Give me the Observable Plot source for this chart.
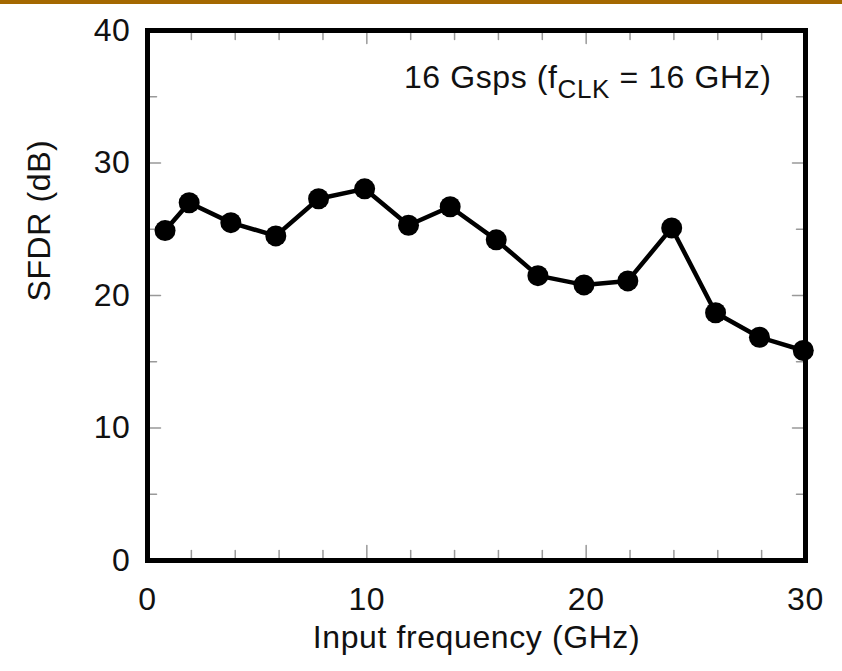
<!DOCTYPE html>
<html>
<head>
<meta charset="utf-8">
<script src="https://cdn.jsdelivr.net/npm/d3@7"></script>
<script src="https://cdn.jsdelivr.net/npm/@observablehq/plot@0.6"></script>
<style>
  html, body { margin: 0; padding: 0; background: #fff; }
  #wrap { position: relative; width: 842px; height: 671px; }
  #topbar { position: absolute; left: 0; top: 0; width: 842px; height: 4px; background: #a46800; }
  svg text { font-family: "Liberation Sans", Arial, Helvetica, sans-serif; letter-spacing: 0.6px; }
</style>
</head>
<body>
<div id="wrap"><div id="topbar"></div></div>
<script>
// Data
const freq = [0.8, 1.9, 3.8, 5.85, 7.8, 9.9, 11.9, 13.8, 15.9, 17.8, 19.9, 21.9, 23.9, 25.9, 27.9, 29.9];
const sfdr = [24.9, 27.0, 25.5, 24.5, 27.3, 28.05, 25.3, 26.7, 24.2, 21.5, 20.8, 21.1, 25.1, 18.7, 16.85, 15.85];

const xLabelTicks = [0, 10, 20, 30];
const xMinorTicks = [2, 4, 6, 8, 12, 14, 16, 18, 22, 24, 26, 28];
const xMajorTicks = [10, 20];
const yLabelTicks = [0, 10, 20, 30, 40];
const yMinorTicks = [5, 15, 25, 35];
const yMajorTicks = [10, 20, 30];

const xLabel = "Input frequency (GHz)";
const yLabel = "SFDR (dB)";
const annotation = "16 Gsps (fCLK = 16 GHz)";

const points = freq.map((f, i) => ({f, v: sfdr[i]}));

const tickShape = {
  draw(context, l) { context.moveTo(0, 0); context.lineTo(0, -l); }
};
const tickStyle = {shape: tickShape, anchor: "start", stroke: "#999", strokeWidth: 1.5};
const FS = 32;

const chart = Plot.plot({
  width: 842,
  height: 671,
  marginLeft: 147,
  marginRight: 37,
  marginTop: 30,
  marginBottom: 111,
  style: {background: "transparent", fontFamily: '"Liberation Sans", Arial, Helvetica, sans-serif'},
  x: {domain: [0, 30]},
  y: {domain: [0, 40]},
  marks: [
    // inward ticks, bottom & top
    Plot.vector(xMinorTicks, {x: d => d, frameAnchor: "bottom", rotate: 0, length: 10, ...tickStyle}),
    Plot.vector(xMajorTicks, {x: d => d, frameAnchor: "bottom", rotate: 0, length: 15, ...tickStyle}),
    Plot.vector(xMinorTicks, {x: d => d, frameAnchor: "top", rotate: 180, length: 9, ...tickStyle}),
    Plot.vector(xMajorTicks, {x: d => d, frameAnchor: "top", rotate: 180, length: 13, ...tickStyle}),
    // inward ticks, left & right
    Plot.vector(yMinorTicks, {y: d => d, frameAnchor: "left", rotate: 90, length: 9, ...tickStyle}),
    Plot.vector(yMajorTicks, {y: d => d, frameAnchor: "left", rotate: 90, length: 13, ...tickStyle}),
    Plot.vector(yMinorTicks, {y: d => d, frameAnchor: "right", rotate: -90, length: 9, ...tickStyle}),
    Plot.vector(yMajorTicks, {y: d => d, frameAnchor: "right", rotate: -90, length: 13, ...tickStyle}),
    Plot.axisX({ticks: xLabelTicks, tickSize: 0, tickPadding: 27, fontSize: FS, label: null, tickFormat: d => String(d), fill: "#111"}),
    Plot.axisY({ticks: yLabelTicks, tickSize: 0, tickPadding: 17, fontSize: FS, label: null, tickFormat: d => String(d), fill: "#111"}),
    Plot.frame({stroke: "#000", strokeWidth: 5}),
    Plot.line(points, {x: "f", y: "v", stroke: "#000", strokeWidth: 4.5}),
    Plot.dot(points, {x: "f", y: "v", r: 10.5, fill: "#000", stroke: "none"}),
    Plot.text([xLabel], {text: d => d, frameAnchor: "bottom", dy: 77, fontSize: FS, lineAnchor: "middle", fill: "#111"}),
    Plot.text([yLabel], {text: d => d, frameAnchor: "left", dx: -108, dy: 6, rotate: -90, fontSize: FS, lineAnchor: "middle", fill: "#111"}),
    Plot.text([annotation], {text: d => d, frameAnchor: "top-right", dx: -34, dy: 47, fontSize: FS, textAnchor: "end", lineAnchor: "middle", fill: "#111"})
  ]
});

document.getElementById("wrap").prepend(chart);
chart.style.position = "absolute";
chart.style.left = "0";
chart.style.top = "0";
document.getElementById("wrap").appendChild(document.getElementById("topbar"));

// subscript for f_CLK
d3.select(chart).selectAll("text").each(function() {
  if (this.textContent === annotation) {
    const t = d3.select(this);
    t.text("");
    t.append("tspan").text("16 Gsps (f");
    t.append("tspan").attr("dy", "10").attr("font-size", "26").text("CLK");
    t.append("tspan").attr("dy", "-10").text(" = 16 GHz)");
  }
});
</script>
</body>
</html>
